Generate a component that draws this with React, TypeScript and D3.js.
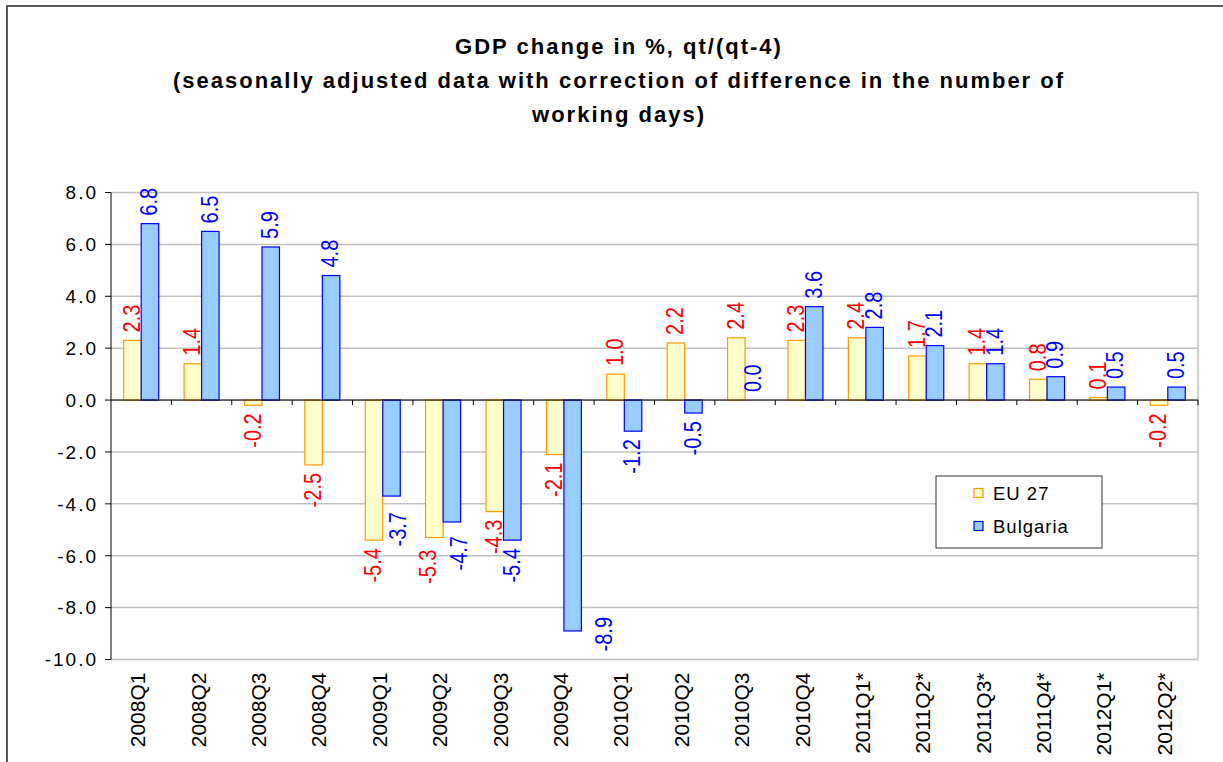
import * as d3 from "d3";

const quarters = [
  "2008Q1", "2008Q2", "2008Q3", "2008Q4",
  "2009Q1", "2009Q2", "2009Q3", "2009Q4",
  "2010Q1", "2010Q2", "2010Q3", "2010Q4",
  "2011Q1*", "2011Q2*", "2011Q3*", "2011Q4*",
  "2012Q1*", "2012Q2*",
];
const eu27 = [2.3, 1.4, -0.2, -2.5, -5.4, -5.3, -4.3, -2.1, 1.0, 2.2, 2.4, 2.3, 2.4, 1.7, 1.4, 0.8, 0.1, -0.2];
const bulgaria = [6.8, 6.5, 5.9, 4.8, -3.7, -4.7, -5.4, -8.9, -1.2, -0.5, 0.0, 3.6, 2.8, 2.1, 1.4, 0.9, 0.5, 0.5];
const yTicks = [8, 6, 4, 2, 0, -2, -4, -6, -8, -10];
const titleLines = [
  "GDP change in %, qt/(qt-4)",
  "(seasonally adjusted data with correction of difference in the number of",
  "working days)",
];

const series = [
  { name: "EU 27", values: eu27, fill: "#FFFFCC", stroke: "#FF9900", label: "#FF0000" },
  { name: "Bulgaria", values: bulgaria, fill: "#99CCFF", stroke: "#0000FF", label: "#0000FF" },
];

const font = "Arial, 'Liberation Sans', sans-serif";

// hand-moved data labels in the original (series index, category index) -> [dx, dy]
const nudges: Record<string, [number, number]> = {
  "1-4": [7, 8],
  "1-5": [8, 6],
  "0-5": [-6, 4],
  "1-7": [32, -22],
};

export default function App() {
  const left = 111, right = 1198, top = 192.5, bottom = 659.5;
  const x = d3.scaleBand<string>().domain(quarters).range([left, right]);
  const y = d3.scaleLinear().domain([-10, 8]).range([bottom, top]);
  const bw = 17.5;
  const groupOffset = x.bandwidth() / 2 - bw;

  return (
    <svg width={1223} height={762} style={{ position: "absolute", left: 0, top: 0, background: "#fff" }} fontFamily={font}>
      <rect x={7} y={6} width={1240} height={780} fill="#fff" stroke="#222" strokeWidth={1.5} />
      {titleLines.map((t, i) => (
        <text key={i} x={619} y={54 + i * 34} textAnchor="middle" fontSize={22} letterSpacing={2} fontWeight="bold" fill="#000">
          {t}
        </text>
      ))}
      {/* grid */}
      {yTicks.map((t) => (
        <line key={t} x1={left} x2={right} y1={y(t)} y2={y(t)} stroke="#C0C0C0" strokeWidth={1.5} />
      ))}
      <line x1={right} x2={right} y1={top} y2={bottom} stroke="#C0C0C0" strokeWidth={1.5} />
      {/* bars */}
      {series.map((s, si) => (
        <g key={s.name}>
          {s.values.map((v, i) => {
            const bx = x(quarters[i])! + groupOffset + si * bw;
            const y0 = y(Math.max(0, v));
            const h = Math.abs(y(v) - y(0));
            return <rect key={i} x={bx} y={y0} width={bw} height={h} fill={s.fill} stroke={s.stroke} strokeWidth={1.2} />;
          })}
        </g>
      ))}
      {/* axes */}
      <line x1={left} x2={left} y1={top} y2={bottom} stroke="#000" strokeWidth={1} />
      {yTicks.map((t) => (
        <g key={t}>
          <line x1={left - 6} x2={left} y1={y(t)} y2={y(t)} stroke="#000" />
          <text x={98} y={y(t)} dy="0.36em" textAnchor="end" fontSize={19} letterSpacing={2} fill="#000">
            {t.toFixed(1)}
          </text>
        </g>
      ))}
      <line x1={left} x2={right} y1={y(0)} y2={y(0)} stroke="#000" strokeWidth={1} />
      {quarters.map((q) => (
        <line key={q} x1={x(q)! + x.bandwidth()} x2={x(q)! + x.bandwidth()} y1={y(0)} y2={y(0) + 5} stroke="#000" />
      ))}
      {quarters.map((q) => (
        <text
          key={q}
          transform={`translate(${x(q)! + x.bandwidth() / 2 - 3.5},${bottom + 13}) rotate(-90)`}
          dy="0.36em"
          textAnchor="end"
          fontSize={21}
          fill="#000"
        >
          {q}
        </text>
      ))}
      {/* value labels */}
      {series.map((s, si) => (
        <g key={s.name}>
          {s.values.map((v, i) => {
            const [nx, ny] = nudges[`${si}-${i}`] ?? [0, 0];
            const cx = x(quarters[i])! + groupOffset + si * bw + bw / 2 - 1 + nx;
            const pos = v >= 0;
            const ly = (pos ? y(v) - 8 : y(v) + 8) + ny;
            return (
              <text
                key={i}
                transform={`translate(${cx},${ly}) scale(1.15,1) rotate(-90)`}
                dy="0.36em"
                textAnchor={pos ? "start" : "end"}
                fontSize={20}
                fill={s.label}
              >
                {v.toFixed(1)}
              </text>
            );
          })}
        </g>
      ))}
      {/* legend */}
      <rect x={936} y={476} width={166} height={72} fill="#fff" stroke="#333" strokeWidth={1} />
      {series.map((s, i) => (
        <g key={s.name} transform={`translate(0,${493 + i * 33})`}>
          <rect x={974} y={-4.5} width={9} height={9} fill={s.fill} stroke={s.stroke} strokeWidth={1.2} />
          <text x={993} y={0} dy="0.36em" fontSize={18.5} letterSpacing={1} fill="#000">
            {s.name}
          </text>
        </g>
      ))}
    </svg>
  );
}
